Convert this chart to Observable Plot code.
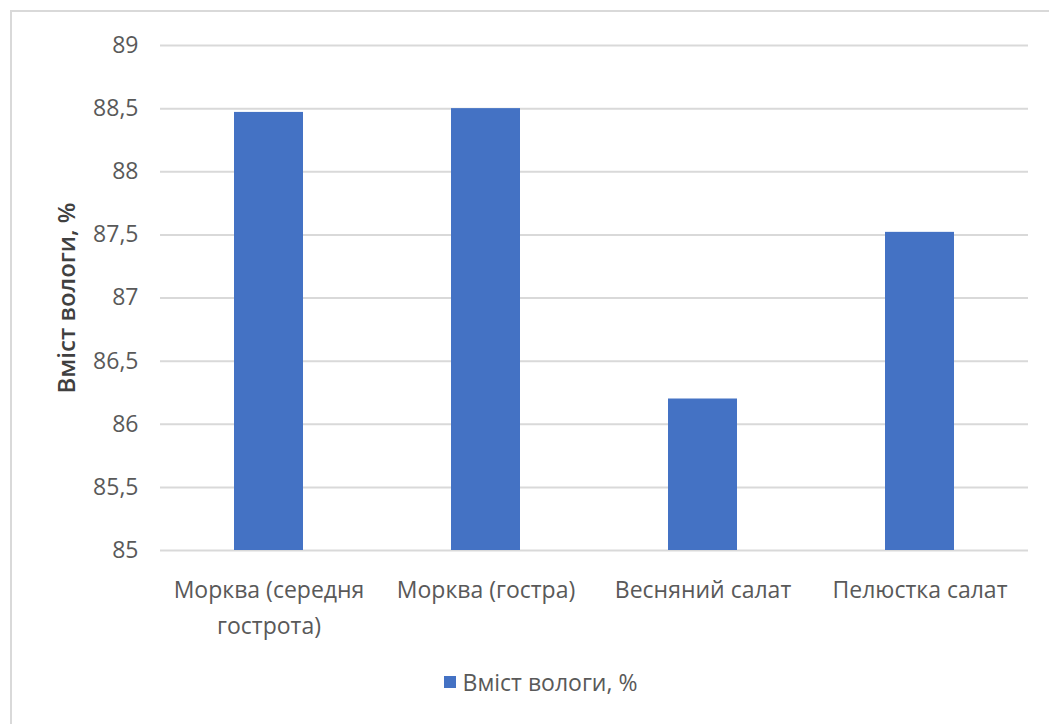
<!DOCTYPE html>
<html>
<head>
<meta charset="utf-8">
<script src="https://cdn.jsdelivr.net/npm/d3@7"></script>
<script src="https://cdn.jsdelivr.net/npm/@observablehq/plot@0.6"></script>
<style>
  html, body { margin: 0; padding: 0; background: #fff; overflow: hidden; }
  body { width: 1049px; height: 724px; position: relative; font-family: "Open Sans", sans-serif; }
  #frame { position: absolute; left: 10px; top: 10px; width: 1100px; height: 800px;
           border: 2px solid #d9d9d9; box-sizing: border-box; }
  #chart { position: absolute; left: 0; top: 0; }
  #legend { position: absolute; left: 0; top: 666px; width: 1081px; display: flex;
            justify-content: center; align-items: center; color: #595959; font-size: 23px; }
  #legend .swatch { width: 12px; height: 12px; background: #4472c4; margin-right: 7px; }
</style>
</head>
<body>
<div id="frame"></div>
<div id="chart"></div>
<div id="legend"></div>
<script>
// Moisture content of vegetable samples
const categories = ["Морква (середня гострота)", "Морква (гостра)", "Весняний салат", "Пелюстка салат"];
const tickLabels = ["Морква (середня\nгострота)", "Морква (гостра)", "Весняний салат", "Пелюстка салат"];
const moisture = [88.47, 88.5, 86.2, 87.52];
const yTicks = [85, 85.5, 86, 86.5, 87, 87.5, 88, 88.5, 89];
const seriesName = "Вміст вологи, %";
const barColor = "#4472c4";

const rows = categories.map((c, i) => ({category: c, value: moisture[i]}));
const fmt = v => String(v).replace(".", ",");

const chart = Plot.plot({
  width: 1049,
  height: 650,
  marginLeft: 160,
  marginRight: 21,
  marginTop: 45,
  marginBottom: 100,
  style: {fontFamily: "Open Sans, sans-serif", fontSize: "23px", color: "#595959", background: "transparent"},
  x: {domain: categories, paddingInner: 0.68, paddingOuter: 0.34, label: null},
  y: {domain: [85, 89], label: null},
  marks: [
    Plot.gridY(yTicks, {stroke: "#d9d9d9", strokeOpacity: 1, strokeWidth: 2}),
    Plot.barY(rows, {x: "category", y1: 85, y2: "value", fill: barColor}),
    Plot.axisY(yTicks, {tickSize: 0, tickPadding: 22, tickFormat: fmt, fill: "#595959", label: null}),
    Plot.axisX({tickSize: 0, tickPadding: 21, lineHeight: 1.6, fill: "#595959", label: null,
      tickFormat: d => tickLabels[categories.indexOf(d)]}),
    Plot.text([seriesName], {frameAnchor: "left", textAnchor: "middle", rotate: -90, dx: -93,
      fontSize: 24, fontWeight: 600, fill: "#404040", text: d => d})
  ]
});
document.getElementById("chart").appendChild(chart);

const legend = document.getElementById("legend");
const sw = document.createElement("div");
sw.className = "swatch";
const lt = document.createElement("span");
lt.textContent = seriesName;
legend.appendChild(sw);
legend.appendChild(lt);
</script>
</body>
</html>
